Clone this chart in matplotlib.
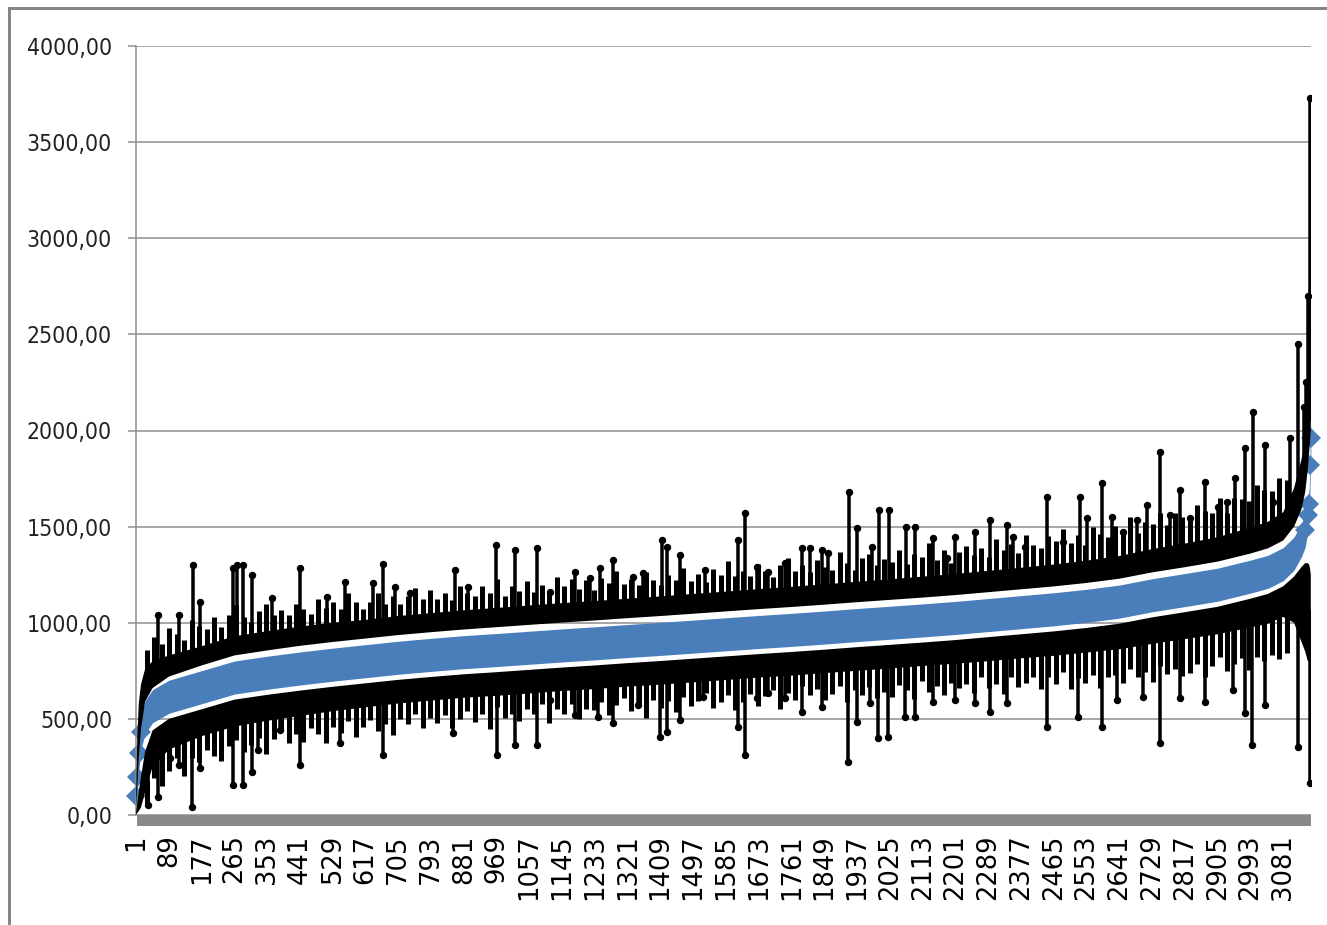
import numpy as np
import matplotlib
matplotlib.use('Agg')
import matplotlib.pyplot as plt
from matplotlib.patches import Rectangle
from matplotlib import font_manager

# ---------------- data ----------------
n_categories = 3155
tick_labels = ['1', '89', '177', '265', '353', '441', '529', '617', '705', '793', '881',
               '969', '1057', '1145', '1233', '1321', '1409', '1497', '1585', '1673',
               '1761', '1849', '1937', '2025', '2113', '2201', '2289', '2377', '2465',
               '2553', '2641', '2729', '2817', '2905', '2993', '3081']
y_ticks = [0, 500, 1000, 1500, 2000, 2500, 3000, 3500, 4000]

cats = [1, 4, 8, 14, 25, 45, 89, 177, 265, 353, 441, 529, 617, 705, 793, 881, 969, 1057,
        1145, 1233, 1321, 1409, 1497, 1585, 1673, 1761, 1849, 1937, 2025, 2113, 2201, 2289,
        2377, 2465, 2553, 2641, 2729, 2817, 2905, 2993, 3040, 3081, 3110, 3130, 3140, 3147,
        3151, 3153, 3155]

blue = [100, 200, 320, 430, 510, 566, 615, 665, 715, 740, 762, 782, 800, 818, 833, 847, 858, 870,
        882, 893, 905, 916, 928, 940, 952, 963, 975, 988, 1000, 1012, 1025, 1040,
        1055, 1070, 1088, 1110, 1143, 1170, 1198, 1240, 1265, 1305, 1360, 1430, 1480, 1560,
        1620, 1820, 1960]

upper_lo = [40, 150, 300, 450, 590, 660, 720, 778, 830, 856, 880, 900, 918, 936, 951, 965, 977, 989,
            1001, 1012, 1024, 1035, 1047, 1059, 1071, 1082, 1094, 1107, 1119, 1131, 1144, 1159,
            1174, 1189, 1207, 1229, 1262, 1289, 1318, 1360, 1387, 1428, 1500, 1590, 1680, 1800,
            1900, 1950, 2000]

upper_hi = [120, 400, 580, 680, 760, 800, 830, 878, 930, 956, 980, 1000, 1015, 1035, 1050, 1065, 1077, 1090,
            1102, 1113, 1125, 1137, 1150, 1162, 1175, 1187, 1200, 1213, 1226, 1240, 1254, 1270,
            1286, 1303, 1323, 1347, 1383, 1412, 1445, 1495, 1525, 1575, 1700, 1850, 1950, 2050,
            2100, 2150, 2150]

lower_hi = [20, 60, 120, 200, 330, 440, 500, 550, 600, 625, 647, 667, 685, 703, 718, 732, 743, 755,
            767, 778, 790, 801, 813, 825, 837, 848, 860, 873, 885, 897, 910, 925,
            940, 955, 973, 995, 1028, 1055, 1083, 1125, 1150, 1190, 1240, 1290, 1310, 1310,
            1300, 1280, 1250]

lower_lo = [0, 10, 20, 40, 120, 250, 340, 410, 460, 490, 515, 540, 560, 580, 595, 610, 620, 632,
            645, 655, 668, 678, 690, 702, 715, 725, 738, 750, 762, 775, 787, 800,
            815, 828, 845, 862, 890, 915, 940, 975, 995, 1030, 1000, 900, 850, 800,
            800, 850, 900]

upper_spike_cat = [60, 116, 154, 172, 261, 272, 288, 312, 366, 441, 513, 562, 637, 664, 696, 736,
                   857, 892, 967, 1018, 1077, 1112, 1179, 1219, 1246, 1281, 1335, 1362, 1413, 1426,
                   1461, 1528, 1617, 1636, 1668, 1697, 1743, 1789, 1810, 1842, 1859, 1915, 1936,
                   1977, 1995, 2022, 2068, 2092, 2140, 2178, 2199, 2253, 2294, 2339, 2355, 2387,
                   2447, 2489, 2535, 2554, 2594, 2621, 2651, 2688, 2715, 2750, 2777, 2804, 2830,
                   2871, 2906, 2930, 2952, 2978, 3000, 3032, 3053, 3099, 3120, 3136, 3142, 3147, 3153]
upper_spike_val = [1040, 1040, 1300, 1107, 1283, 1299, 1299, 1247, 1128, 1283, 1133, 1211, 1205, 1304,
                   1185, 1153, 1273, 1185, 1403, 1377, 1387, 1159, 1263, 1231, 1283, 1325, 1237, 1257,
                   1429, 1393, 1351, 1273, 1429, 1569, 1289, 1263, 1309, 1387, 1387, 1377, 1361, 1678,
                   1491, 1393, 1585, 1585, 1497, 1497, 1439, 1335, 1445, 1471, 1533, 1507, 1445, 1393,
                   1652, 1419, 1652, 1543, 1725, 1549, 1471, 1533, 1611, 1886, 1559, 1689, 1543,
                   1730, 1600, 1626, 1751, 1907, 2094, 1923, 1626, 1959, 2452, 2120, 2250, 2702, 3731]

lower_spike_cat = [33, 60, 92, 116, 151, 172, 261, 288, 312, 328, 387, 441, 548, 664, 852, 970,
                   1018, 1077, 1112, 1179, 1241, 1281, 1348, 1407, 1426, 1461, 1523, 1617, 1636,
                   1668, 1697, 1743, 1789, 1842, 1912, 1936, 1971, 1993, 2020, 2065, 2092, 2140,
                   2199, 2253, 2294, 2339, 2447, 2530, 2594, 2634, 2704, 2750, 2804, 2871, 2946,
                   2978, 2997, 3032, 3120, 3153]
lower_spike_val = [52, 94, 296, 260, 42, 244, 156, 156, 224, 338, 442, 260, 374, 312, 426, 312,
                   364, 364, 598, 520, 509, 478, 572, 405, 431, 494, 613, 457, 312,
                   608, 634, 608, 535, 561, 275, 483, 582, 400, 405, 509, 509, 587,
                   598, 582, 535, 582, 457, 509, 457, 598, 613, 374, 608, 587, 650,
                   530, 364, 572, 353, 166]

# small excursions of the black series beyond their dense core, every 20th category from 30
minor_cat = list(range(30, 3091, 20))
upper_minor_rise = [90, 120, 70, 140, 100, 60, 150, 110, 80, 130,
                    70, 120, 160, 90, 60, 110, 140, 80, 100, 70,
                    120, 90, 60, 130, 80, 110, 70, 150, 100, 60,
                    90, 130, 70, 110, 60, 100, 140, 80, 120, 70,
                    100, 60, 130, 90, 70, 120, 80, 150, 60, 110,
                    80, 130, 70, 100, 60, 140, 90, 120, 70, 110,
                    60, 120, 90, 150, 80, 100, 70, 130, 90, 60,
                    110, 80, 140, 70, 100, 60, 120, 90, 160, 80,
                    100, 70, 130, 90, 60, 120, 150, 80, 110, 70,
                    130, 90, 70, 160, 100, 60, 120, 140, 80, 110,
                    90, 150, 70, 120, 100, 170, 80, 130, 60, 110,
                    140, 90, 120, 70, 160, 100, 130, 80, 170, 110,
                    90, 150, 120, 180, 100, 140, 80, 170, 130, 110,
                    160, 120, 190, 100, 150, 130, 180, 110, 170, 140,
                    120, 190, 150, 130, 200, 110, 180, 160, 140, 210,
                    170, 150, 190, 130]
lower_minor_drop = [100, 70, 150, 110, 60, 170, 90, 130, 80, 120,
                    160, 90, 70, 140, 110, 80, 170, 100, 60, 130,
                    90, 140, 70, 110, 160, 80, 120, 60, 150, 100,
                    70, 130, 100, 160, 80, 110, 60, 140, 90, 120,
                    80, 150, 110, 70, 130, 90, 170, 60, 120, 100,
                    140, 80, 110, 60, 160, 90, 120, 70, 150, 100,
                    110, 70, 140, 90, 60, 130, 100, 170, 80, 120,
                    90, 150, 70, 120, 100, 60, 140, 110, 80, 160,
                    120, 80, 150, 100, 70, 170, 90, 130, 60, 110,
                    80, 140, 110, 70, 160, 100, 130, 90, 150, 120,
                    150, 90, 120, 170, 80, 140, 110, 160, 100, 130,
                    110, 160, 80, 140, 120, 180, 90, 150, 130, 100,
                    170, 110, 150, 90, 180, 130, 160, 120, 190, 140,
                    130, 180, 110, 160, 140, 200, 120, 170, 150, 190,
                    180, 140, 210, 160, 120, 200, 170, 150, 220, 160,
                    190, 170, 210, 180]

# ---------------- style ----------------
W, H, DPI = 1327, 925, 100
BLUE = '#4a7ebb'
GRID = '#8c8c8c'
px = 72.0 / DPI  # points per pixel


def pick_label_font():
    fl = font_manager.fontManager.ttflist
    for f in fl:
        if 'Narrow' in f.name and 'Liberation' in f.name:
            return dict(fontfamily=f.name, fontsize=20)
    for f in fl:
        if f.name == 'DejaVu Sans' and 'ondensed' in f.fname:
            return dict(fontfamily='DejaVu Sans', fontstretch='condensed', fontsize=16.5)
    return dict(fontfamily='Roboto', fontsize=17)


yfont = pick_label_font()

fig = plt.figure(figsize=(W / DPI, H / DPI), dpi=DPI)
ax = fig.add_axes([136 / W, (H - 815) / H, (1311 - 136) / W, (815 - 46) / H])

cats_a = np.array(cats)
blue_a = np.array(blue, dtype=float)
ulo, uhi = np.array(upper_lo, float), np.array(upper_hi, float)
llo, lhi = np.array(lower_lo, float), np.array(lower_hi, float)
band = 86  # visual half-height of the densely packed blue diamond markers

# blue series (dense diamonds)
ax.fill_between(cats_a, blue_a - band, blue_a + band, color=BLUE, lw=0, zorder=2)
ends = (cats_a <= 14) | (cats_a >= 3140)
ax.plot(cats_a[ends], blue_a[ends], 'D', color=BLUE, ms=10.5, mew=0, zorder=2, clip_on=False)

# black upper / lower series: dense core
ax.fill_between(cats_a, ulo, uhi, facecolor='black', lw=0, zorder=3)
ax.fill_between(cats_a, llo, lhi, facecolor='black', lw=0, zorder=3)

# small excursions
mc = np.array(minor_cat)
top_m = np.interp(mc, cats_a, uhi)
ax.vlines(mc, top_m - 30, top_m + np.array(upper_minor_rise), color='black', lw=5 * px, zorder=3)
bot_m = np.interp(mc, cats_a, llo)
ax.vlines(mc, bot_m - np.array(lower_minor_drop), bot_m + 30, color='black', lw=5 * px, zorder=3)

# large excursions with point markers
uc = np.array(upper_spike_cat)
ut = np.array(upper_spike_val)
ub = np.interp(uc, cats_a, (ulo + uhi) / 2)
ax.vlines(uc, ub, ut, color='black', lw=3.5 * px, zorder=3)
ax.plot(uc, ut, 'o', color='black', ms=6 * px, zorder=3)

lc = np.array(lower_spike_cat)
lt = np.array(lower_spike_val)
lb = np.interp(lc, cats_a, (llo + lhi) / 2)
ax.vlines(lc, lt, lb, color='black', lw=3.5 * px, zorder=3)
ax.plot(lc, lt, 'o', color='black', ms=6 * px, zorder=3)

# axes
ax.set_xlim(0.5, n_categories + 0.5)
ax.set_ylim(0, 4000)
ax.set_yticks(y_ticks)
ax.set_yticklabels([f"{v:.2f}".replace('.', ',') for v in y_ticks], color='#222222', **yfont)
tick_pos = [int(t) for t in tick_labels]
ax.set_xticks(tick_pos)
ax.set_xticklabels(tick_labels, rotation=90, fontfamily='DejaVu Sans', fontsize=18.5,
                   va='top', ha='center')
ax.tick_params(axis='x', length=0, pad=14)
ax.tick_params(axis='y', length=8 * px, width=1.5 * px, color=GRID, pad=16 * px)
ax.yaxis.grid(True, color=GRID, lw=1.5 * px, zorder=0)
ax.set_axisbelow(True)
for s in ['top', 'right', 'bottom']:
    ax.spines[s].set_visible(False)
ax.spines['left'].set_color(GRID)
ax.spines['left'].set_linewidth(1.5 * px)

# thick gray category axis band
fig.add_artist(Rectangle((137 / W, (H - 826) / H), (1311 - 137) / W, 11 / H,
                         transform=fig.transFigure, color='#8a8a8a', lw=0))
# outer chart frame
fig.add_artist(plt.Line2D([9 / W, 9 / W], [0, (H - 8) / H], transform=fig.transFigure,
                          color='#858585', lw=3 * px))
fig.add_artist(plt.Line2D([9 / W, 1], [(H - 8) / H, (H - 8) / H], transform=fig.transFigure,
                          color='#858585', lw=3 * px))

fig.savefig('out.png', dpi=DPI)
